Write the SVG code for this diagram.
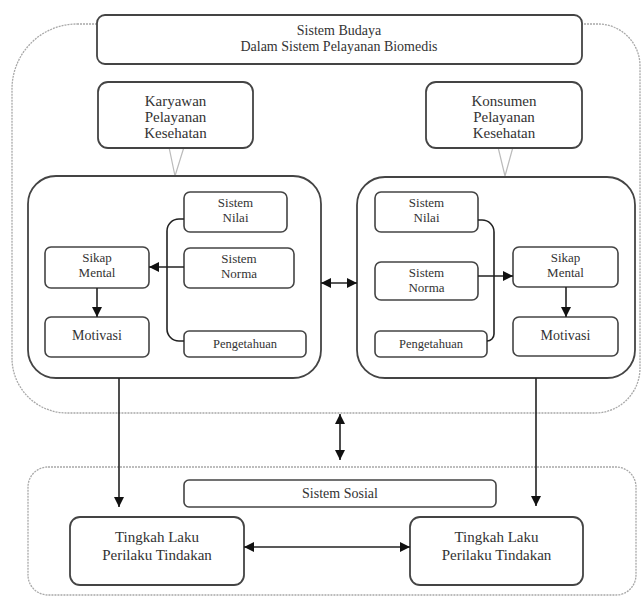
<svg xmlns="http://www.w3.org/2000/svg" width="643" height="598" viewBox="0 0 643 598">
<defs>
<marker id="ah" markerUnits="userSpaceOnUse" markerWidth="11" markerHeight="11" refX="10" refY="5" orient="auto-start-reverse">
<path d="M0,0 L10,5 L0,10 z" fill="#111"/>
</marker>
<style>
.bound{fill:none;stroke:#a8a8a8;stroke-width:1.3;stroke-dasharray:2 1}
.box{fill:#fff;stroke:#444;stroke-width:1.8}
.ibox{fill:#fff;stroke:#444;stroke-width:1.6}
.call{fill:#fff;stroke:#bbb;stroke-width:1.2}
.t{font-family:"Liberation Serif","Times New Roman",serif;fill:#333;text-anchor:middle}
.t15{font-size:15px}
.t14{font-size:14px}
.t13{font-size:13px}
.t12{font-size:12.5px}
.c{fill:none;stroke:#222;stroke-width:1.6}
.ca{fill:none;stroke:#222;stroke-width:1.6;marker-end:url(#ah)}
.cb{fill:none;stroke:#222;stroke-width:1.6;marker-end:url(#ah);marker-start:url(#ah)}
</style>
</defs>
<rect width="643" height="598" fill="#fff"/>

<g id="boundary-budaya">
<path class="bound" d="M77,24 L598,24 A42,42 0 0 1 640,66 L640,368 A45,45 0 0 1 595,413 L67,413 A55,55 0 0 1 12,358 L12,89 A65,65 0 0 1 77,24 Z"/>
</g>
<g id="boundary-sosial">
<rect class="bound" x="28" y="467" width="608" height="128" rx="20"/>
</g>

<g id="sistem-budaya">
<rect class="box" x="97" y="15" width="485" height="49" rx="8"/>
<text class="t t14" x="339" y="34.5">Sistem Budaya</text>
<text class="t t14" x="339" y="51">Dalam Sistem Pelayanan Biomedis</text>
</g>

<g id="karyawan">
<polygon class="call" points="169,147 184,147 175,176"/>
<rect class="box" x="98" y="82" width="155" height="66" rx="10"/>
<text class="t t15" x="175.5" y="106">Karyawan</text>
<text class="t t15" x="175.5" y="122">Pelayanan</text>
<text class="t t15" x="175.5" y="138">Kesehatan</text>
</g>

<g id="konsumen">
<polygon class="call" points="498,147 513,147 505,176"/>
<rect class="box" x="426" y="82" width="156" height="66" rx="10"/>
<text class="t t15" x="504" y="106">Konsumen</text>
<text class="t t15" x="504" y="122">Pelayanan</text>
<text class="t t15" x="504" y="138">Kesehatan</text>
</g>

<g id="group-left">
<rect class="box" x="28" y="176" width="293" height="202" rx="28"/>
</g>
<g id="group-right">
<rect class="box" x="357" y="177" width="278" height="201" rx="28"/>
</g>

<g id="l-nilai">
<rect class="ibox" x="184" y="192" width="103" height="40" rx="6"/>
<text class="t t13" x="235.5" y="207">Sistem</text>
<text class="t t13" x="235.5" y="221.5">Nilai</text>
</g>
<g id="l-norma">
<rect class="ibox" x="184" y="248" width="110" height="40" rx="6"/>
<text class="t t13" x="239" y="263">Sistem</text>
<text class="t t13" x="239" y="277.5">Norma</text>
</g>
<g id="l-pengetahuan">
<rect class="ibox" x="184" y="331" width="122" height="26" rx="5"/>
<text class="t t12" x="245" y="348">Pengetahuan</text>
</g>
<g id="l-sikap">
<rect class="ibox" x="45" y="247" width="104" height="41" rx="6"/>
<text class="t t13" x="97" y="262">Sikap</text>
<text class="t t13" x="97" y="276.5">Mental</text>
</g>
<g id="l-motivasi">
<rect class="ibox" x="45" y="317" width="104" height="40" rx="6"/>
<text class="t t14" x="97" y="340">Motivasi</text>
</g>

<g id="r-nilai">
<rect class="ibox" x="375" y="192" width="103" height="40" rx="6"/>
<text class="t t13" x="426.5" y="207">Sistem</text>
<text class="t t13" x="426.5" y="221.5">Nilai</text>
</g>
<g id="r-norma">
<rect class="ibox" x="375" y="262" width="103" height="38" rx="6"/>
<text class="t t13" x="426.5" y="277">Sistem</text>
<text class="t t13" x="426.5" y="291.5">Norma</text>
</g>
<g id="r-pengetahuan">
<rect class="ibox" x="375" y="331" width="112" height="26" rx="5"/>
<text class="t t12" x="431" y="348">Pengetahuan</text>
</g>
<g id="r-sikap">
<rect class="ibox" x="513" y="247" width="105" height="40" rx="6"/>
<text class="t t13" x="565.5" y="262">Sikap</text>
<text class="t t13" x="565.5" y="276.5">Mental</text>
</g>
<g id="r-motivasi">
<rect class="ibox" x="513" y="317" width="105" height="39" rx="6"/>
<text class="t t14" x="565.5" y="340">Motivasi</text>
</g>

<g id="sistem-sosial">
<rect class="ibox" x="184" y="480" width="312" height="27" rx="5"/>
<text class="t t14" x="340" y="498">Sistem Sosial</text>
</g>
<g id="tingkah-left">
<rect class="box" x="70" y="517" width="174" height="68" rx="10"/>
<text class="t t15" x="157" y="542">Tingkah Laku</text>
<text class="t t15" x="157" y="560">Perilaku Tindakan</text>
</g>
<g id="tingkah-right">
<rect class="box" x="410" y="517" width="173" height="68" rx="10"/>
<text class="t t15" x="496.5" y="542">Tingkah Laku</text>
<text class="t t15" x="496.5" y="560">Perilaku Tindakan</text>
</g>

<g id="connectors">
<path class="c" d="M184,219 L179,219 A12,12 0 0 0 167,231 L167,329 A12,12 0 0 0 179,341 L184,341"/>
<path class="ca" d="M184,267 L149,267"/>
<path class="ca" d="M97,288 L97,317"/>
<path class="c" d="M478,220 L482,220 A12,12 0 0 1 494,232 L494,334 A7,7 0 0 1 487,341"/>
<path class="ca" d="M478,276 L513,276"/>
<path class="ca" d="M566,287 L566,317"/>
<path class="cb" d="M321,283 L357,283"/>
<path class="ca" d="M119,378 L119,507"/>
<path class="ca" d="M536,378 L536,506"/>
<path class="cb" d="M340,414 L340,460"/>
<path class="cb" d="M244,547 L410,547"/>
</g>
</svg>
